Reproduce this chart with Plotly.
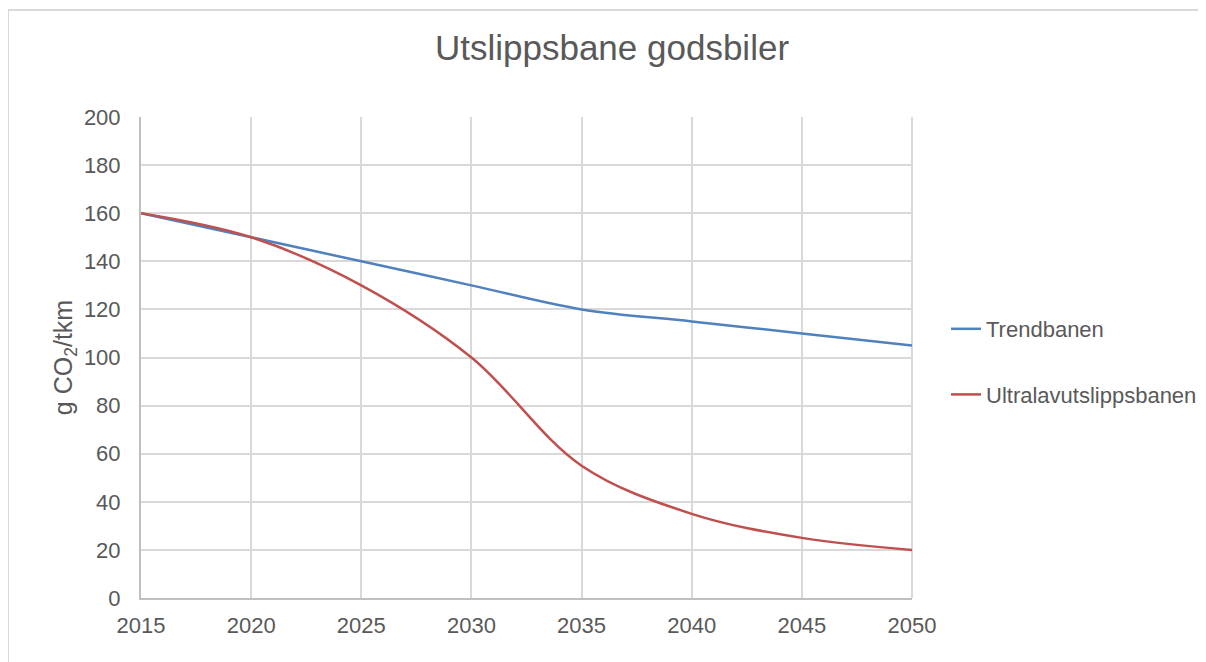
import plotly.graph_objects as go

years = [2015, 2020, 2025, 2030, 2035, 2040, 2045, 2050]
trendbanen = [160, 150, 140, 130, 120, 115, 110, 105]
ultralav = [160, 150, 130, 100, 55, 35, 25, 20]
series_names = ["Trendbanen", "Ultralavutslippsbanen"]
series_colors = ["#4F81BD", "#C0504D"]
x_ticks = [2015, 2020, 2025, 2030, 2035, 2040, 2045, 2050]
y_ticks = [0, 20, 40, 60, 80, 100, 120, 140, 160, 180, 200]

FONT = "Liberation Sans, Arial, sans-serif"
GREY_TXT = "#595959"

# page has an 8px body margin; figure coordinates = page coordinates - 8
OFF = 8
W, H = 1206 - OFF, 662 - OFF
L, T = 141 - OFF, 117 - OFF
pw, ph = 771, 481
R, B = W - L - pw, H - T - ph

fig = go.Figure()
for i, (name, vals) in enumerate(zip(series_names, [trendbanen, ultralav])):
    fig.add_trace(go.Scatter(
        x=years, y=vals, name=name, mode="lines",
        line=dict(color=series_colors[i], width=2.5, shape="spline", smoothing=1.0),
        legendgroup=name,
    ))

fig.update_layout(
    width=W, height=H,
    margin=dict(l=L, r=R, t=T, b=B, autoexpand=False),
    paper_bgcolor="white", plot_bgcolor="white",
    font=dict(family=FONT, color=GREY_TXT, size=22),
    title=dict(text="Utslippsbane godsbiler", x=(612 - OFF) / W, xanchor="center",
               y=1 - (48 - OFF) / H, yanchor="middle",
               font=dict(family=FONT, size=35, color=GREY_TXT)),
    showlegend=True,
    legend=dict(x=(946 - 141) / pw, xanchor="left", y=1 - (308 - 117) / ph, yanchor="top",
                font=dict(family=FONT, size=22, color=GREY_TXT),
                traceorder="grouped", tracegroupgap=34,
                bgcolor="rgba(0,0,0,0)"),
    xaxis=dict(range=[2015, 2050], tickvals=x_ticks, ticktext=[str(v) for v in x_ticks],
               showgrid=True, gridcolor="#D9D9D9", gridwidth=2,
               showline=True, linecolor="#BFBFBF", linewidth=2,
               zeroline=False, ticks="", ticklabelstandoff=7,
               tickfont=dict(size=22, color=GREY_TXT)),
    yaxis=dict(range=[0, 200], tickvals=y_ticks,
               showgrid=True, gridcolor="#D9D9D9", gridwidth=2,
               showline=True, linecolor="#BFBFBF", linewidth=2,
               zeroline=False, ticks="", ticklabelstandoff=14,
               tickfont=dict(size=22, color=GREY_TXT),
               title=dict(text="g CO<sub>2</sub>/tkm", standoff=4,
                          font=dict(size=25, color=GREY_TXT))),
)

# right border line of plot area (gridline look)
fig.add_shape(type="line", xref="paper", yref="paper", x0=1, x1=1, y0=0, y1=1,
              line=dict(color="#D9D9D9", width=2), layer="below")
# outer chart border
fig.add_shape(type="rect", xref="paper", yref="paper",
              x0=(8 - 141) / pw, x1=(1206 + 20 - 141) / pw,
              y0=-(662 + 20 - 598) / ph, y1=1 + (117 - 10) / ph,
              line=dict(color="#D9D9D9", width=2), fillcolor="rgba(0,0,0,0)")

fig.write_html("out.html")
